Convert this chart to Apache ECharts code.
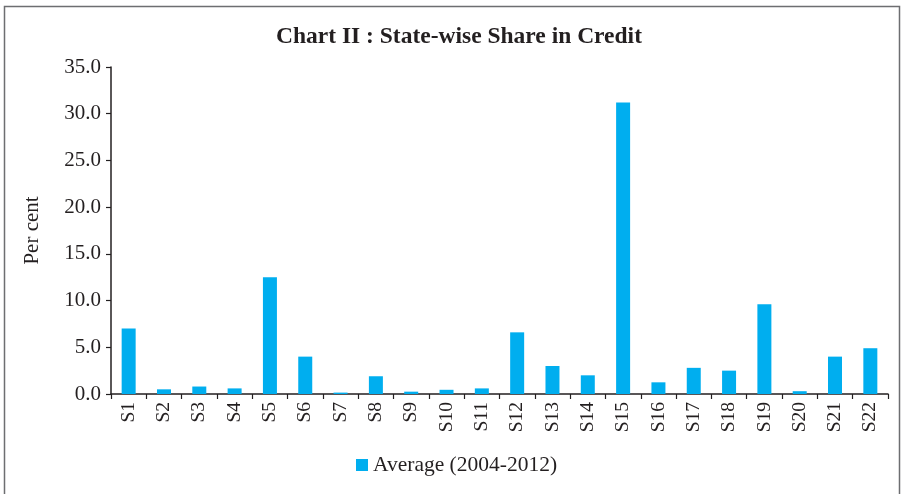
<!DOCTYPE html>
<html>
<head>
<meta charset="utf-8">
<script src="https://cdn.jsdelivr.net/npm/echarts@6/dist/echarts.min.js"></script>
<style>
  html, body { margin: 0; padding: 0; background: #fff; }
  #chart { width: 904px; height: 494px; }
</style>
</head>
<body>
<div id="chart"></div>
<script>
// State-wise share in credit, average 2004-2012 (per cent)
const states = ['S1','S2','S3','S4','S5','S6','S7','S8','S9','S10','S11',
                'S12','S13','S14','S15','S16','S17','S18','S19','S20','S21','S22'];
const averageShare = [7.0, 0.5, 0.8, 0.6, 12.5, 4.0, 0.15, 1.9, 0.25, 0.45, 0.6,
                      6.6, 3.0, 2.0, 31.2, 1.25, 2.8, 2.5, 9.6, 0.3, 4.0, 4.9];
const yTicks = { min: 0, max: 35, step: 5 };

const serif = '"Liberation Serif", "DejaVu Serif", serif';
const ink = '#231f20';

const chart = echarts.init(document.getElementById('chart'), null, { renderer: 'canvas' });
chart.setOption({
  animation: false,
  backgroundColor: '#fff',
  graphic: [{
    type: 'rect',
    shape: { x: 4.5, y: 6.5, width: 895, height: 500 },
    style: { fill: 'none', stroke: '#6d6e71', lineWidth: 1.5 },
    silent: true
  }],
  title: {
    text: 'Chart II : State-wise Share in Credit',
    left: 271,
    top: 20,
    textStyle: { fontFamily: serif, fontWeight: 'bold', fontSize: 23.5, color: ink }
  },
  legend: {
    bottom: 13,
    left: 351,
    itemWidth: 12,
    itemHeight: 12,
    itemGap: 8,
    icon: 'rect',
    textStyle: { fontFamily: serif, fontSize: 21.5, color: ink },
    data: ['Average (2004-2012)']
  },
  grid: { left: 111, right: 16, top: 67, bottom: 100, containLabel: false },
  xAxis: {
    type: 'category',
    data: states,
    axisLine: { lineStyle: { color: ink, width: 1.5 } },
    axisTick: { show: true, alignWithLabel: false, length: 5, lineStyle: { color: ink, width: 1.2 } },
    axisLabel: {
      rotate: 90,
      fontFamily: serif,
      fontSize: 19.5,
      color: ink,
      margin: 8
    }
  },
  yAxis: {
    type: 'value',
    min: yTicks.min,
    max: yTicks.max,
    interval: yTicks.step,
    name: 'Per cent',
    nameLocation: 'middle',
    nameGap: 68,
    nameTextStyle: { fontFamily: serif, fontSize: 21, color: ink },
    axisLine: { show: true, lineStyle: { color: ink, width: 1.5 } },
    axisTick: { show: true, length: 5, lineStyle: { color: ink, width: 1.2 } },
    splitLine: { show: false },
    axisLabel: {
      fontFamily: serif,
      fontSize: 21,
      color: ink,
      margin: 10,
      formatter: v => v.toFixed(1)
    }
  },
  series: [{
    name: 'Average (2004-2012)',
    type: 'bar',
    data: averageShare,
    barWidth: 14,
    itemStyle: { color: '#00aeef' }
  }]
});
</script>
</body>
</html>
